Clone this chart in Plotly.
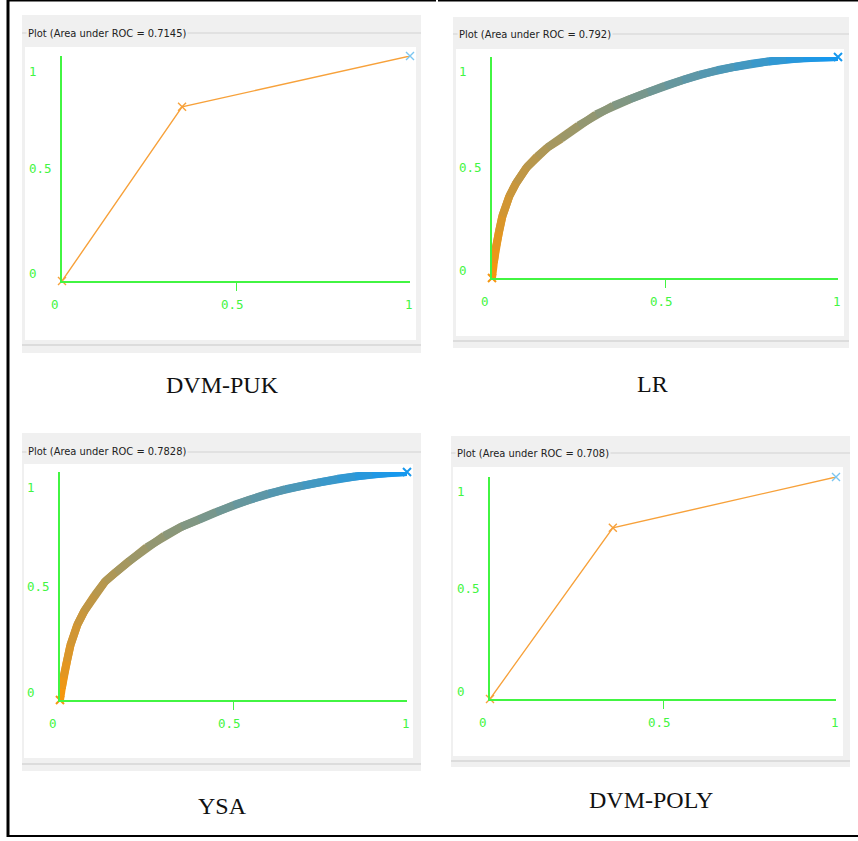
import plotly.graph_objects as go

W, H = 858, 841

# ---- data -------------------------------------------------------------
model_names = ["DVM-PUK", "LR", "YSA", "DVM-POLY"]
auc_values = ["0.7145", "0.792", "0.7828", "0.708"]

puk_fpr = [0.0, 0.345, 1.0]
puk_tpr = [0.0, 0.774, 1.0]

poly_fpr = [0.0, 0.355, 1.0]
poly_tpr = [0.0, 0.771, 1.0]

lr_fpr = [0, 0.005, 0.01, 0.02, 0.03, 0.05, 0.07, 0.1, 0.13, 0.16, 0.2, 0.25, 0.3, 0.35,
          0.4, 0.45, 0.5, 0.55, 0.6, 0.65, 0.7, 0.75, 0.8, 0.85, 0.9, 0.95, 1.0]
lr_tpr = [0, 0.07, 0.13, 0.21, 0.28, 0.37, 0.43, 0.50, 0.55, 0.59, 0.63, 0.69, 0.74, 0.78,
          0.81, 0.84, 0.87, 0.895, 0.92, 0.94, 0.955, 0.97, 0.98, 0.99, 0.995, 0.998, 1.0]

ysa_fpr = [0, 0.005, 0.01, 0.02, 0.03, 0.05, 0.07, 0.1, 0.13, 0.16, 0.2, 0.25, 0.3, 0.35,
           0.4, 0.45, 0.5, 0.55, 0.6, 0.65, 0.7, 0.75, 0.8, 0.85, 0.9, 0.95, 1.0]
ysa_tpr = [0, 0.05, 0.1, 0.17, 0.24, 0.33, 0.39, 0.46, 0.52, 0.56, 0.61, 0.67, 0.72, 0.76,
           0.79, 0.825, 0.855, 0.88, 0.905, 0.925, 0.94, 0.955, 0.97, 0.98, 0.99, 0.997, 1.0]

tick_values = [0, 0.5, 1]
tick_labels = ["0", "0.5", "1"]

# ---- panel geometry (pixels) -------------------------------------------
panels = [
    dict(box=(22, 15, 421, 353), white=(25, 47, 416, 340), strip=345, title_y=33,
         ax=(62, 410, 281, 56), cap=(222, 385)),
    dict(box=(453, 17, 849, 348), white=(456, 49, 844, 336), strip=341, title_y=34,
         ax=(492, 838, 278, 57), cap=(652, 384)),
    dict(box=(22, 433, 421, 771), white=(24, 464, 413, 758), strip=764, title_y=452,
         ax=(60, 407, 700, 472), cap=(222, 806)),
    dict(box=(451, 436, 850, 767), white=(453, 467, 843, 756), strip=761, title_y=453,
         ax=(490, 836, 699, 477), cap=(651, 800)),
]

GREEN = "#42f542"
ORANGE = (245, 150, 15)
BLUE = (22, 152, 238)
TITLE_FONT = "DejaVu Sans Condensed, Roboto, Liberation Sans, sans-serif"
TICK_FONT = "DejaVu Sans Mono, Liberation Mono, monospace"


def px(x):
    return x / W


def py(y):
    return 1 - y / H


def mix(t):
    c = [round(a + (b - a) * t) for a, b in zip(ORANGE, BLUE)]
    return "rgb({},{},{})".format(*c)


fig = go.Figure()
shapes = []
annotations = []

curves = [
    ("step", puk_fpr, puk_tpr),
    ("band", lr_fpr, lr_tpr),
    ("band", ysa_fpr, ysa_tpr),
    ("step", poly_fpr, poly_tpr),
]

for i, (p, name, auc, (kind, fx, fy)) in enumerate(zip(panels, model_names, auc_values, curves)):
    k = "" if i == 0 else str(i + 1)
    xa, ya = "x" + k, "y" + k
    x0, x1, y0, y1 = p["ax"]

    # grey group box, white plotting canvas, bottom strip, group-box rule
    bx0, by0, bx1, by1 = p["box"]
    shapes.append(dict(type="rect", xref="paper", yref="paper", layer="below",
                       x0=px(bx0), x1=px(bx1), y0=py(by1), y1=py(by0),
                       fillcolor="#f0f0f0", line=dict(width=0)))
    wx0, wy0, wx1, wy1 = p["white"]
    shapes.append(dict(type="rect", xref="paper", yref="paper", layer="below",
                       x0=px(wx0), x1=px(wx1), y0=py(wy1), y1=py(wy0),
                       fillcolor="#ffffff", line=dict(width=0)))
    shapes.append(dict(type="line", xref="paper", yref="paper", layer="below",
                       x0=px(bx0), x1=px(bx1), y0=py(p["strip"]), y1=py(p["strip"]),
                       line=dict(color="#dcdcdc", width=2)))
    shapes.append(dict(type="line", xref="paper", yref="paper", layer="below",
                       x0=px(bx0), x1=px(bx1), y0=py(p["title_y"]), y1=py(p["title_y"]),
                       line=dict(color="#d2d2d2", width=1)))

    annotations.append(dict(xref="paper", yref="paper", x=px(bx0 + 4), y=py(p["title_y"]),
                            xanchor="left", yanchor="middle", showarrow=False,
                            text=f"Plot (Area under ROC = {auc})", bgcolor="#f0f0f0",
                            borderpad=1,
                            font=dict(family=TITLE_FONT, size=11, color="#222222")))

    annotations.append(dict(xref="paper", yref="paper", x=px(p["cap"][0]), y=py(p["cap"][1]),
                            xanchor="center", yanchor="middle", showarrow=False, text=name,
                            font=dict(family="Liberation Serif, DejaVu Serif, serif",
                                      size=24, color="#111111")))

    axis_common = dict(range=[0, 1], showgrid=False, zeroline=False, showline=True,
                       linecolor=GREEN, linewidth=2, showticklabels=False, fixedrange=True)
    fig.layout[("xaxis" + k)] = dict(axis_common, domain=[px(x0), px(x1)], anchor=ya,
                                     tickvals=[0.5], ticks="outside", ticklen=8,
                                     tickwidth=1, tickcolor=GREEN)
    fig.layout[("yaxis" + k)] = dict(axis_common, domain=[py(y0), py(y1)], anchor=xa,
                                     ticks="")

    # tick labels, nudged as the plotting widget places them
    xshift = [-7, -4, -1]
    yshift = [8, 0, -15]
    for v, lab, dx in zip(tick_values, tick_labels, xshift):
        annotations.append(dict(xref=xa, yref=ya, x=v, y=0, xshift=dx, yshift=-23,
                                showarrow=False, text=lab,
                                font=dict(family=TICK_FONT, size=12.5, color=GREEN)))
    for v, lab, dy in zip(tick_values, tick_labels, yshift):
        annotations.append(dict(xref=xa, yref=ya, x=0, y=v, xshift=-35, yshift=dy,
                                xanchor="left", showarrow=False, text=lab,
                                font=dict(family=TICK_FONT, size=12.5, color=GREEN)))

    if kind == "step":
        fig.add_trace(go.Scatter(x=fx, y=fy, xaxis=xa, yaxis=ya, mode="lines",
                                 line=dict(color="#f7a13a", width=1.4),
                                 cliponaxis=False, hoverinfo="skip", showlegend=False))
        fig.add_trace(go.Scatter(x=fx, y=fy, xaxis=xa, yaxis=ya, mode="markers",
                                 marker=dict(symbol="x-thin", size=8,
                                             line=dict(width=1.4,
                                                       color=["#f7a13a", "#f7a13a", "#7cc6f0"])),
                                 cliponaxis=False, hoverinfo="skip", showlegend=False))
    else:
        n = len(fx)
        # each coloured piece runs one point past its end so the joints stay solid
        for j in range(n - 1):
            fig.add_trace(go.Scatter(x=fx[j:j + 3], y=fy[j:j + 3], xaxis=xa, yaxis=ya,
                                     mode="lines", line=dict(color=mix(j / (n - 2)), width=8),
                                     cliponaxis=False, hoverinfo="skip", showlegend=False))
        # end points drawn as crosses
        fig.add_trace(go.Scatter(x=[fx[0], fx[-1]], y=[fy[0], fy[-1]], xaxis=xa, yaxis=ya,
                                 mode="markers",
                                 marker=dict(symbol="x-thin", size=8,
                                             line=dict(width=2, color=[mix(0), mix(1)])),
                                 cliponaxis=False, hoverinfo="skip", showlegend=False))

# outer frame of the figure table
frame = [
    (8, 0, 8, 837, 3),
    (8, 836, 858, 836, 2),
    (8, 0.5, 436, 0.5, 2),
    (438, 0.5, 858, 0.5, 2),
]
for fx0, fy0, fx1, fy1, w in frame:
    shapes.append(dict(type="line", xref="paper", yref="paper", layer="above",
                       x0=px(fx0), x1=px(fx1), y0=py(fy0), y1=py(fy1),
                       line=dict(color="#000000", width=w)))

fig.update_layout(width=W, height=H, margin=dict(l=0, r=0, t=0, b=0),
                  paper_bgcolor="#ffffff", plot_bgcolor="rgba(0,0,0,0)",
                  shapes=shapes, annotations=annotations, showlegend=False)

fig.write_html("out.html", config={"displayModeBar": False})
